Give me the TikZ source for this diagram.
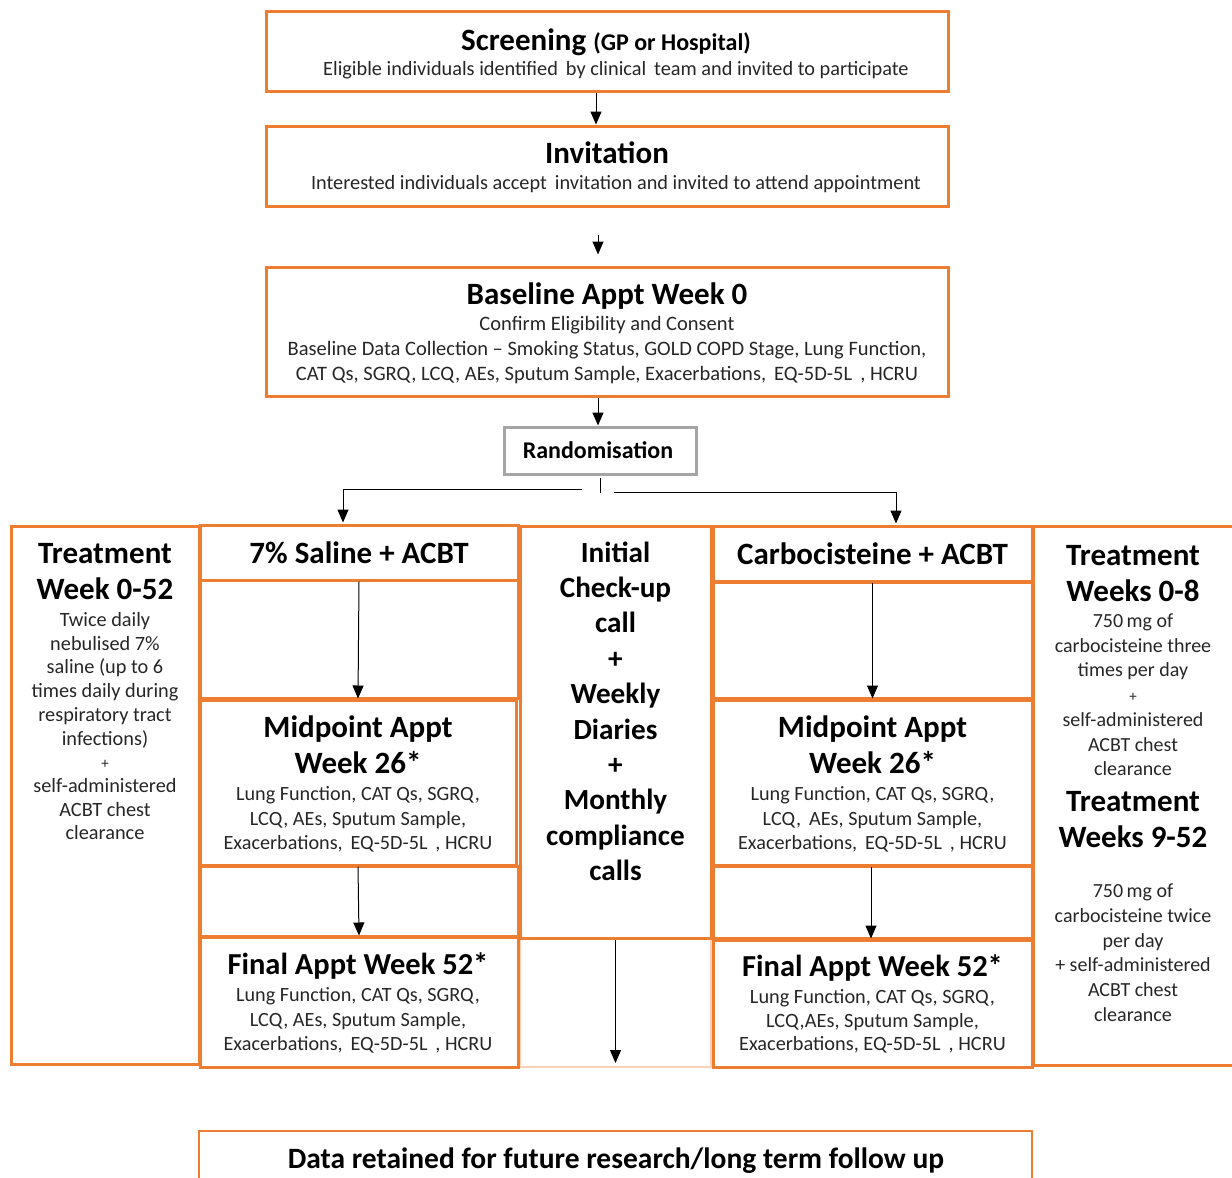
\documentclass[tikz,border=0pt]{standalone}
\usepackage{fontspec}
\setmainfont{Carlito}
\usetikzlibrary{arrows.meta}
\definecolor{org}{HTML}{ED7D31}
\definecolor{gry}{HTML}{A5A5A5}
\definecolor{ink}{HTML}{262626}
\newcommand{\fsz}[2]{\fontsize{#1}{#2}\selectfont}
\newcommand{\bx}[6][obox]{\node[#1, minimum width={(#5-#3)*1pt}, minimum height={(#6-#4)*1pt}] (#2) at ({(#3+#5)/2},{(#4+#6)/2}) {};}
\begin{document}
\begin{tikzpicture}[x=1pt,y=-1pt,
 obox/.style={draw=org, line width=3pt, inner sep=0pt},
 gbox/.style={draw=gry, line width=3pt, inner sep=0pt},
 fbox/.style={draw=org!35, line width=2pt, inner sep=0pt},
 dbox/.style={draw=org, line width=2pt, inner sep=0pt},
 txt/.style={inner sep=0pt, align=center, anchor=base},
 big/.style={txt, font=\fsz{31}{36}\bfseries},
 reg/.style={txt, text=ink, font=\fsz{20.2}{24.5}},
 arr/.style={line width=1pt, -{Triangle[width=11pt,length=13pt]}}
]
\useasboundingbox (0,0) rectangle (1232,1178);
% boxes
\bx[fbox]{ml}{520}{938}{711}{1067}
\bx{scr}{266}{11}{948}{91}
\bx{inv}{266}{126}{948}{206}
\bx{base}{266}{267}{948}{396}
\bx[gbox]{rand}{504}{427}{696}{474}
\bx{lt}{11}{526}{199}{1064}
\bx{sh}{200}{525}{518}{580}
\bx{sg1}{200}{580}{518}{698}
\bx{sm}{200}{700}{516}{865}
\bx{sg2}{200}{866}{518}{936}
\bx{sf}{200}{937}{518}{1067}
\bx{mc}{520}{526}{711}{938}
\bx{ch}{713}{526}{1032}{581}
\bx{cg1}{713}{582}{1032}{698}
\bx{cm}{713}{700}{1032}{865}
\bx{cg2}{713}{866}{1032}{938}
\bx{cf}{713}{940}{1032}{1067}
\bx{rt}{1033}{526}{1250}{1065}
\bx[dbox]{dr}{199}{1131}{1032}{1200}
% texts
\node[txt, font=\fsz{31}{36}\bfseries] (scrT) at (606,50) {Screening {\fsz{24}{28}(GP or Hospital)}};
\node[txt, text=ink, font=\fsz{20.3}{24}] (scrS) at (616,75) {Eligible individuals identified\, by clinical\, team and invited to participate};
\node[big] (invT) at (607,163) {Invitation};
\node[txt, text=ink, font=\fsz{20.3}{24}] (invS) at (616,189) {Interested individuals accept\, invitation and invited to attend appointment};
\node[big] (baseT) at (607,304) {Baseline Appt Week 0};
\node[txt, text=ink, font=\fsz{20.5}{25}] (baseS) at (607,380.5) {Confirm Eligibility and Consent\\Baseline Data Collection -- Smoking Status, GOLD COPD Stage, Lung Function,\\CAT Qs, SGRQ, LCQ, AEs, Sputum Sample, Exacerbations,\, EQ-5D-5L\, , HCRU};
\node[txt, font=\fsz{24}{28}\bfseries] (randT) at (598,458) {Randomisation};
% left treatment
\node[big] (ltT) at (105,599) {Treatment\\Week 0-52};
\node[txt, text=ink, font=\fsz{20.3}{23.7}] (ltS) at (105,839.8) {Twice daily\\nebulised 7\%\\saline (up to 6\\times daily during\\respiratory tract\\infections)\\{\fsz{15}{18}+}\\self-administered\\ACBT chest\\clearance};
% saline column
\node[big] (shT) at (359,563) {7\% Saline + ACBT};
\node[big] (smT) at (358,773) {Midpoint Appt\\Week 26*};
\node[reg] (smS) at (358,849.5) {Lung Function, CAT Qs, SGRQ,\\LCQ, AEs, Sputum Sample,\\Exacerbations,\, EQ-5D-5L\, , HCRU};
\node[txt, font=\fsz{30.5}{36}\bfseries] (sfT) at (358,974) {Final Appt Week 52*};
\node[reg] (sfS) at (358,1050.5) {Lung Function, CAT Qs, SGRQ,\\LCQ, AEs, Sputum Sample,\\Exacerbations,\, EQ-5D-5L\, , HCRU};
% middle column
\node[txt, font=\fsz{29.2}{35.4}\bfseries] (mcT) at (615.5,880.6) {Initial\\Check-up\\call\\+\\Weekly\\Diaries\\+\\Monthly\\compliance\\calls};
% carbocisteine column
\node[big] (chT) at (872.5,564) {Carbocisteine + ACBT};
\node[big] (cmT) at (872.5,773) {Midpoint Appt\\Week 26*};
\node[reg] (cmS) at (872.5,849.5) {Lung Function, CAT Qs, SGRQ,\\LCQ,\, AEs, Sputum Sample,\\Exacerbations,\, EQ-5D-5L\, , HCRU};
\node[txt, font=\fsz{30.5}{36}\bfseries] (cfT) at (872.5,976) {Final Appt Week 52*};
\node[txt, text=ink, font=\fsz{20.3}{23.5}] (cfS) at (872.5,1050.5) {Lung Function, CAT Qs, SGRQ,\\LCQ,AEs, Sputum Sample,\\Exacerbations, EQ-5D-5L\, , HCRU};
% right treatment
\node[big] (rtT1) at (1133,601) {Treatment\\Weeks 0-8};
\node[txt, text=ink, font=\fsz{20}{24.7}] (rtS1) at (1133,775.7) {750\,mg of\\carbocisteine three\\times per day\\{\fsz{15}{18}+}\\self-administered\\ACBT chest\\clearance};
\node[big] (rtT2) at (1133,847) {Treatment\\Weeks 9-52};
\node[txt, text=ink, font=\fsz{20}{24.8}] (rtS2) at (1133,1021.5) {750\,mg of\\carbocisteine twice\\per day\\+ self-administered\\ACBT chest\\clearance};
% bottom
\node[txt, font=\fsz{29.5}{34}\bfseries] (drT) at (616,1168) {Data retained for future research/long term follow up};
% connectors
\draw[arr] ([xshift=-11pt]scr.south) -- ([xshift=-11pt]inv.north);
\draw[arr] ([xshift=-9pt,yshift=-27pt]inv.south) -- ([xshift=-9pt,yshift=11pt]base.north);
\draw[arr] ([xshift=-9pt]base.south) -- ([xshift=-2pt]rand.north);
\coordinate (tk1) at (600,478);
\coordinate (tk2) at (600,493);
\coordinate (spL) at (582,489);
\coordinate (spR) at (614,492);
\draw[line width=1pt] (tk1) -- (tk2);
\draw[arr, shorten >=1pt] (spL) -| ([xshift=-16pt]sh.north);
\draw[arr, shorten >=1pt] (spR) -| ([xshift=23.5pt]ch.north);
\draw[arr] (sh.south) -- (sm.north);
\draw[arr] (sm.south) -- (sf.north);
\draw[arr] (ch.south) -- (cm.north);
\draw[arr] ([xshift=-1.5pt]cm.south) -- ([xshift=-1.5pt]cf.north);
\draw[arr] (mc.south) -- ([yshift=5pt]ml.south);
\end{tikzpicture}
\end{document}
